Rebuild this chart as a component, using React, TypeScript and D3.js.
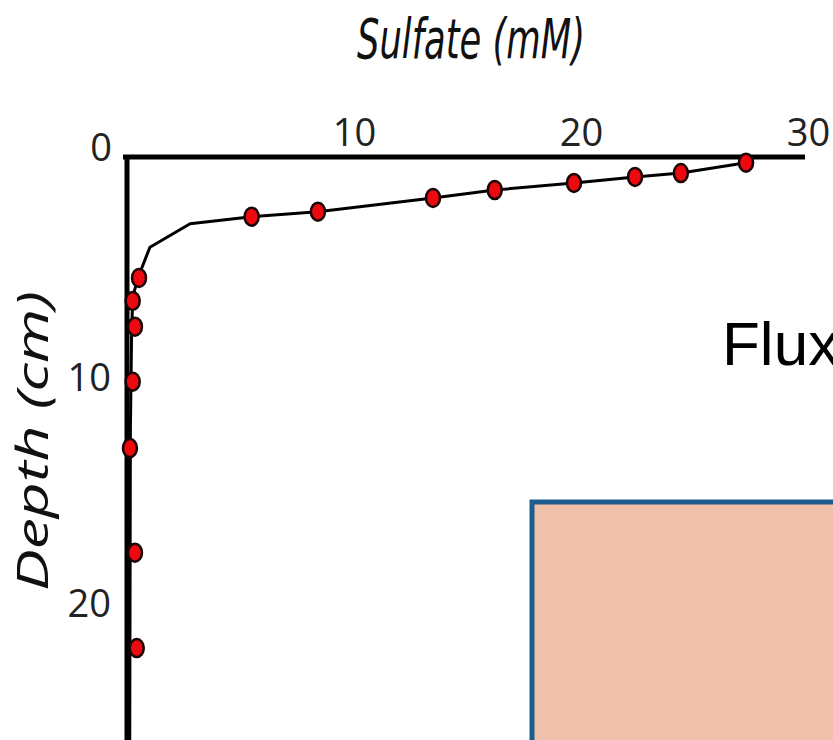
import React, { useRef, useEffect } from 'react';
import * as d3 from 'd3';

// measured profile: sulfate (mM) vs depth (cm)
const sulfate = [27.27, 24.4, 22.38, 19.69, 16.2, 13.48, 8.41, 5.49, 0.53, 0.25, 0.35, 0.25, 0.13, 0.35, 0.43];
const depth = [0.25, 0.71, 0.88, 1.15, 1.46, 1.81, 2.42, 2.64, 5.35, 6.37, 7.51, 9.94, 12.88, 17.51, 21.73];

// hand-drawn trend line through the profile
const fitSulfate = [27.27, 24.4, 22.38, 19.69, 16.2, 13.48, 8.41, 5.49, 2.78, 1.01, 0.5, 0.25, 0.2, 0.15, 0.12];
const fitDepth = [0.25, 0.71, 0.88, 1.15, 1.46, 1.81, 2.42, 2.64, 2.95, 3.99, 5.3, 6.2, 8.0, 12.0, 26.0];

const xTicks = [10, 20, 30];
const yTicks = [10, 20];

const App = () => {
  const svgRef = useRef(null);

  useEffect(() => {
    if (!svgRef.current) return;
    d3.select(svgRef.current).selectAll('*').remove();

    const width = 833;
    const height = 740;
    const svg = d3.select(svgRef.current)
      .attr('width', width)
      .attr('height', height)
      .style('background', 'white');

    const x = d3.scaleLinear().domain([0, 30]).range([127, 808]);
    const y = d3.scaleLinear().domain([0, 26]).range([157, 157 + 26 * 22.6]);

    // flux box (partly off-frame)
    svg.append('rect')
      .attr('x', 532)
      .attr('y', 502)
      .attr('width', 400)
      .attr('height', 400)
      .attr('fill', '#f0c1aa')
      .attr('stroke', '#1d5d8e')
      .attr('stroke-width', 5);

    svg.append('text')
      .attr('x', 722)
      .attr('y', 365)
      .style('font-family', '"Liberation Sans", Arial, sans-serif')
      .style('font-size', '62px')
      .attr('fill', '#000')
      .text('Flux');

    // axes lines
    svg.append('line')
      .attr('x1', x(0) - 4).attr('x2', x(30) - 3)
      .attr('y1', y(0)).attr('y2', y(0))
      .attr('stroke', '#000').attr('stroke-width', 5);
    svg.append('line')
      .attr('x1', x(0)).attr('x2', x(0))
      .attr('y1', y(0) - 2).attr('y2', height)
      .attr('stroke', '#000').attr('stroke-width', 5);

    // tick labels
    const xAxis = svg.append('g')
      .attr('transform', `translate(0,${y(0)})`)
      .call(d3.axisTop(x).tickValues(xTicks).tickSize(0).tickPadding(11));
    xAxis.select('.domain').remove();
    xAxis.selectAll('text')
      .style('font-family', '"Open Sans", sans-serif')
      .style('font-size', '38px')
      .attr('fill', '#222');

    const yAxis = svg.append('g')
      .attr('transform', `translate(${x(0)},0)`)
      .call(d3.axisLeft(y).tickValues(yTicks).tickSize(0).tickPadding(16));
    yAxis.select('.domain').remove();
    yAxis.selectAll('text')
      .attr('dy', '0.2em')
      .style('font-family', '"Open Sans", sans-serif')
      .style('font-size', '38px')
      .attr('fill', '#222');

    svg.append('text')
      .attr('x', 101)
      .attr('y', 161)
      .attr('text-anchor', 'middle')
      .style('font-family', '"Open Sans", sans-serif')
      .style('font-size', '38px')
      .attr('fill', '#222')
      .text('0');

    // axis titles
    svg.append('text')
      .attr('x', 471)
      .attr('y', 58)
      .attr('text-anchor', 'middle')
      .attr('textLength', 228)
      .attr('lengthAdjust', 'spacingAndGlyphs')
      .style('font-family', '"Liberation Sans Narrow", "DejaVu Sans Condensed", sans-serif')
      .style('font-style', 'italic')
      .style('font-size', '56px')
      .attr('fill', '#111')
      .text('Sulfate (mM)');

    svg.append('text')
      .attr('transform', 'translate(48,441) rotate(-90)')
      .attr('text-anchor', 'middle')
      .attr('textLength', 300)
      .attr('lengthAdjust', 'spacingAndGlyphs')
      .style('font-family', '"Open Sans", sans-serif')
      .style('font-style', 'italic')
      .style('font-size', '44px')
      .attr('fill', '#111')
      .text('Depth (cm)');

    // trend line
    const fit = fitSulfate.map((s, i) => [s, fitDepth[i]]);
    const line = d3.line().x(d => x(d[0])).y(d => y(d[1]));
    svg.append('path')
      .attr('d', line(fit))
      .attr('fill', 'none')
      .attr('stroke', '#000')
      .attr('stroke-width', 3)
      .attr('stroke-linejoin', 'round');

    // samples
    svg.selectAll('.sample')
      .data(sulfate.map((s, i) => ({ s, d: depth[i] })))
      .enter()
      .append('ellipse')
      .attr('cx', d => x(d.s))
      .attr('cy', d => y(d.d))
      .attr('rx', 7)
      .attr('ry', 9)
      .attr('fill', '#ec0a10')
      .attr('stroke', '#1a0505')
      .attr('stroke-width', 2.5);
  }, []);

  return (
    <svg ref={svgRef} style={{ position: 'absolute', left: 0, top: 0, display: 'block' }} />
  );
};

export default App;
